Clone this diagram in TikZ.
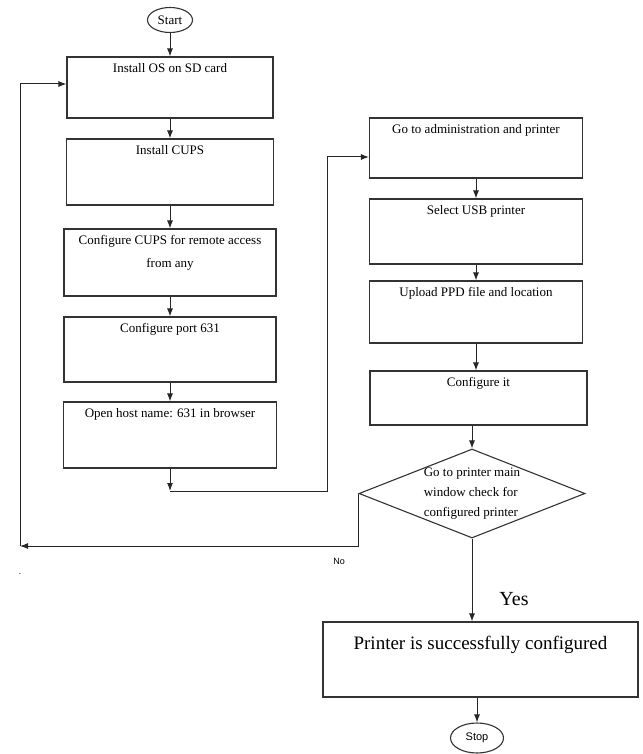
\documentclass[tikz,border=0pt]{standalone}
\usepackage{fontspec}
\setmainfont{Liberation Serif}
\setsansfont{Liberation Sans}
\usepackage{tikz}
\usetikzlibrary{arrows,arrows.meta}
\usetikzlibrary{shapes}
\usetikzlibrary{calc}
\tikzstyle{stepbox} = [rectangle, draw=black!80, line width=1.1pt, inner sep=0pt]
\tikzstyle{boxtext} = [below=5pt, inner sep=2pt, align=center, font=\fontsize{13}{23}\selectfont]
\tikzstyle{term} = [ellipse, draw=black!80, line width=1.1pt, inner sep=0pt]
\tikzstyle{decide} = [diamond, draw=black!80, line width=1.1pt, inner sep=0pt]
\tikzstyle{flow} = [draw=black!85, line width=1pt, -{Latex[length=8pt,width=6pt]}]

\begin{document}
\begin{tikzpicture}[x=1pt,y=-1pt,every node/.style={font=\fontsize{13}{20}\selectfont}]
		\useasboundingbox (0,0) rectangle (642,754);
		% left column
		\node[term, minimum width=45pt, minimum height=25pt] (start) at (170,20) {Start};
		\node[stepbox, minimum width=206pt, minimum height=61pt, label={[boxtext]north:Install OS on SD card}] (b1) at (170,87.5) {};
		\node[stepbox, minimum width=207pt, minimum height=66pt, label={[boxtext]north:Install CUPS}] (b2) at (170,172) {};
		\node[stepbox, minimum width=212pt, minimum height=67pt, label={[boxtext]north:Configure CUPS for remote access\\from any}] (b3) at (170,262.5) {};
		\node[stepbox, minimum width=212pt, minimum height=65pt, label={[boxtext]north:Configure port 631}] (b4) at (170,349.5) {};
		\node[stepbox, minimum width=213pt, minimum height=66pt, label={[boxtext]north:Open host name: 631 in browser}] (b5) at (170,435) {};
		% right column
		\node[stepbox, minimum width=213pt, minimum height=60pt, label={[boxtext]north:Go to administration and printer}] (b6) at (476,148) {};
		\node[stepbox, minimum width=213pt, minimum height=65pt, label={[boxtext]north:Select USB printer}] (b7) at (476,231.5) {};
		\node[stepbox, minimum width=213pt, minimum height=62pt, label={[boxtext]north:Upload PPD file and location}] (b8) at (476,312) {};
		\node[stepbox, minimum width=217pt, minimum height=54pt, label={[boxtext]north:Configure it}] (b9) at (478.5,398) {};
		\node[decide, minimum width=226pt, minimum height=89pt, label={[align=left]center:Go to printer main\\window check for\\configured printer}] (d) at (472,493.5) {};
		\node[stepbox, minimum width=315pt, minimum height=75pt, label={[boxtext, below=7pt, font=\fontsize{19}{23}\selectfont]north:Printer is successfully configured}] (b10) at (480.5,659.5) {};
		\node[term, minimum width=53pt, minimum height=30pt, font=\sffamily\fontsize{11}{11}\selectfont] (stop) at (477,738) {Stop};
		% labels
		\node[font=\sffamily\fontsize{9}{9}\selectfont] (no) at (339,561) {No};
		\node[font=\fontsize{20}{20}\selectfont] (yes) at (514,599) {Yes};
		\node[font=\fontsize{9}{9}\selectfont] (dot) at (20,574) {.};
		% bends
		\coordinate (c1) at (170,491);
		\coordinate (c2) at (327,491);
		\coordinate (c3) at (327,157);
		\coordinate (n2) at (20,546);
		\coordinate (n3) at (20,84);
		\foreach \from/\to in {start/b1,b1/b2,b2/b3,b3/b4,b4/b5,b6/b7,b7/b8,b8/b9}
		\draw[flow] (\from.south) -- (\from.south |- \to.north);
		\draw[flow] (b5.south) -- (c1);
		\draw[flow] (c1) -- (c2) -- (c3) -- (c3 -| b6.west);
		\draw[flow] (d.north |- b9.south) -- (d.north);
		\draw[flow] (d.south) -- (d.south |- b10.north);
		\draw[flow] (stop.north |- b10.south) -- (stop.north);
		% no branch
		\draw[flow] (d.west) -- (d.west |- n2) -- (n2);
		\draw[flow] (n2) -- (n3) -- (n3 -| b1.west);
	\end{tikzpicture}
\end{document}
